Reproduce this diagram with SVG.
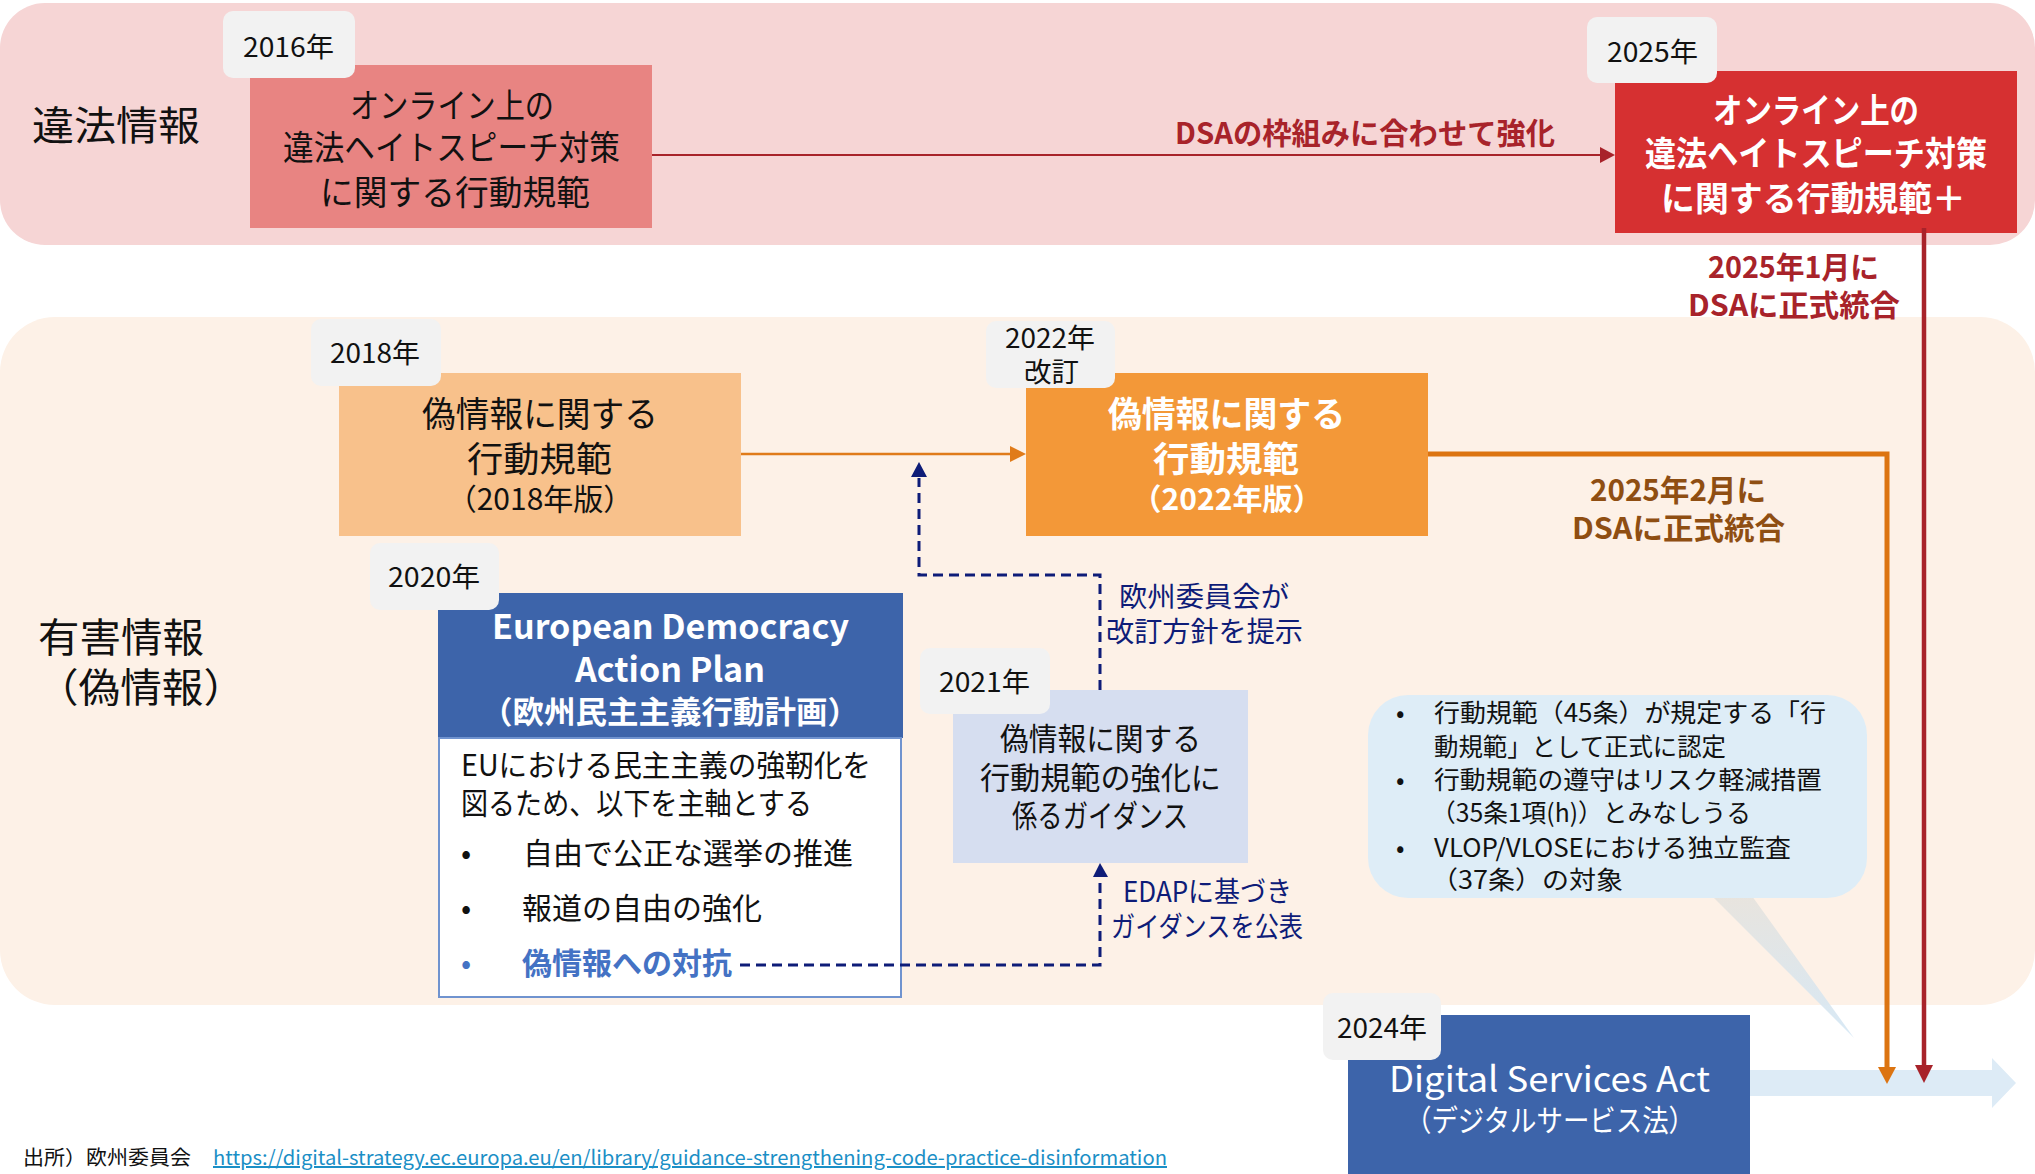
<svg xmlns="http://www.w3.org/2000/svg" width="2035" height="1174" viewBox="0 0 2035 1174">
<style>
text { font-family: "Noto Sans CJK JP", "Noto Sans", sans-serif; }
.b { font-weight: bold; }
.k { fill: #111111; }
.w { fill: #FFFFFF; }
.badge { fill: #F2F2F2; }
.bt { font-size: 27px; fill: #111111; }
.dred { fill: #A8232A; }
.brown { fill: #8F4E12; }
.navy { fill: #0E1C78; font-size: 28px; }
.dash { fill: none; stroke: #0E1C78; stroke-width: 3; stroke-dasharray: 10 6; }
.cl { font-size: 25px; fill: #111111; }
</style>
<defs>
<linearGradient id="tailg" x1="0" y1="0" x2="0" y2="1">
<stop offset="0" stop-color="#E8E4DE"/>
<stop offset="1" stop-color="#D4E7F5" stop-opacity="0.9"/>
</linearGradient>
</defs>

<g id="band-illegal">
<rect x="0" y="3" width="2035" height="242" rx="45" fill="#F6D5D5"/>
<text x="32" y="140" font-size="40" class="k" textLength="168" lengthAdjust="spacingAndGlyphs">違法情報</text>
</g>

<g id="band-harmful">
<rect x="0" y="317" width="2035" height="688" rx="55" fill="#FDF1E7"/>
<text x="38" y="652" font-size="40" class="k" textLength="166" lengthAdjust="spacingAndGlyphs">有害情報</text>
<text x="37" y="702" font-size="40" class="k" textLength="208" lengthAdjust="spacingAndGlyphs">（偽情報）</text>
</g>

<g id="code-2016">
<rect x="250" y="65" width="402" height="163" fill="#E88482"/>
<text x="350" y="118" font-size="34" class="k" textLength="204" lengthAdjust="spacingAndGlyphs">オンライン上の</text>
<text x="283" y="160" font-size="34" class="k" textLength="337" lengthAdjust="spacingAndGlyphs">違法ヘイトスピーチ対策</text>
<text x="320" y="205" font-size="34" class="k" textLength="270" lengthAdjust="spacingAndGlyphs">に関する行動規範</text>
<rect x="223" y="11" width="132" height="67" rx="10" class="badge"/>
<text x="243" y="57" class="bt" textLength="91" lengthAdjust="spacingAndGlyphs">2016年</text>
</g>

<g id="code-2025">
<rect x="1615" y="71" width="402" height="162" fill="#D63031"/>
<text x="1713" y="123" font-size="34" class="b w" textLength="206" lengthAdjust="spacingAndGlyphs">オンライン上の</text>
<text x="1645" y="166" font-size="34" class="b w" textLength="342" lengthAdjust="spacingAndGlyphs">違法ヘイトスピーチ対策</text>
<text x="1661" y="211" font-size="34" class="b w" textLength="305" lengthAdjust="spacingAndGlyphs">に関する行動規範＋</text>
<rect x="1587" y="17" width="130" height="66" rx="10" class="badge"/>
<text x="1607" y="62" class="bt" textLength="91" lengthAdjust="spacingAndGlyphs">2025年</text>
</g>

<g id="code-2018">
<rect x="339" y="373" width="402" height="163" fill="#F8C18B"/>
<text x="422" y="427" font-size="35" class="k" textLength="236" lengthAdjust="spacingAndGlyphs">偽情報に関する</text>
<text x="467" y="472" font-size="35" class="k" textLength="145" lengthAdjust="spacingAndGlyphs">行動規範</text>
<text x="540" y="510" font-size="30" class="k" text-anchor="middle">（2018年版）</text>
<rect x="311" y="319" width="130" height="67" rx="10" class="badge"/>
<text x="330" y="363" class="bt" textLength="90" lengthAdjust="spacingAndGlyphs">2018年</text>
</g>

<g id="code-2022">
<rect x="1026" y="373" width="402" height="163" fill="#F39838"/>
<text x="1108" y="427" font-size="35" class="b w" textLength="237" lengthAdjust="spacingAndGlyphs">偽情報に関する</text>
<text x="1153" y="472" font-size="35" class="b w" textLength="146" lengthAdjust="spacingAndGlyphs">行動規範</text>
<text x="1227" y="510" font-size="30" class="b w" text-anchor="middle">（2022年版）</text>
<rect x="986" y="321" width="129" height="67" rx="10" class="badge"/>
<text x="1005" y="348" class="bt" textLength="90" lengthAdjust="spacingAndGlyphs">2022年</text>
<text x="1024" y="382" class="bt" textLength="55" lengthAdjust="spacingAndGlyphs">改訂</text>
</g>

<g id="edap">
<rect x="438" y="593" width="465" height="145" fill="#3D64AA"/>
<text x="492" y="639" font-size="34" class="b w" textLength="357" lengthAdjust="spacingAndGlyphs">European Democracy</text>
<text x="575" y="682" font-size="34" class="b w" textLength="190" lengthAdjust="spacingAndGlyphs">Action Plan</text>
<text x="670" y="723" font-size="31" class="b w" text-anchor="middle" textLength="378" lengthAdjust="spacingAndGlyphs">（欧州民主主義行動計画）</text>
<rect x="439" y="738" width="462" height="259" fill="#FFFFFF" stroke="#7093CF" stroke-width="2"/>
<text x="461" y="776" font-size="30" class="k" textLength="410" lengthAdjust="spacingAndGlyphs">EUにおける民主主義の強靭化を</text>
<text x="461" y="814" font-size="30" class="k" textLength="351" lengthAdjust="spacingAndGlyphs">図るため、以下を主軸とする</text>
<text x="461" y="864" font-size="30" class="k">•</text>
<text x="523" y="864" font-size="30" class="k" textLength="330" lengthAdjust="spacingAndGlyphs">自由で公正な選挙の推進</text>
<text x="461" y="919" font-size="30" class="k">•</text>
<text x="522" y="919" font-size="30" class="k" textLength="240" lengthAdjust="spacingAndGlyphs">報道の自由の強化</text>
<text x="461" y="974" font-size="30" fill="#4472C4">•</text>
<text x="522" y="974" font-size="30" class="b" fill="#4472C4" textLength="210" lengthAdjust="spacingAndGlyphs">偽情報への対抗</text>
<rect x="370" y="543" width="129" height="67" rx="10" class="badge"/>
<text x="388" y="587" class="bt" textLength="92" lengthAdjust="spacingAndGlyphs">2020年</text>
</g>

<g id="guidance-2021">
<rect x="953" y="690" width="295" height="173" fill="#D6DEF0"/>
<text x="1000" y="750" font-size="31" class="k" textLength="201" lengthAdjust="spacingAndGlyphs">偽情報に関する</text>
<text x="980" y="789" font-size="31" class="k" textLength="241" lengthAdjust="spacingAndGlyphs">行動規範の強化に</text>
<text x="1012" y="827" font-size="31" class="k" textLength="176" lengthAdjust="spacingAndGlyphs">係るガイダンス</text>
<rect x="920" y="648" width="130" height="66" rx="10" class="badge"/>
<text x="939" y="692" class="bt" textLength="91" lengthAdjust="spacingAndGlyphs">2021年</text>
</g>

<g id="callout">
<polygon points="1712,896 1752,896 1854,1038" fill="url(#tailg)"/>
<rect x="1368" y="695" width="499" height="203" rx="40" fill="#DEEDF7"/>
<text x="1396" y="722" class="cl">•</text>
<text x="1434" y="722" class="cl" textLength="392" lengthAdjust="spacingAndGlyphs">行動規範（45条）が規定する「行</text>
<text x="1434" y="756" class="cl" textLength="292" lengthAdjust="spacingAndGlyphs">動規範」として正式に認定</text>
<text x="1396" y="789" class="cl">•</text>
<text x="1434" y="789" class="cl" textLength="388" lengthAdjust="spacingAndGlyphs">行動規範の遵守はリスク軽減措置</text>
<text x="1431" y="822" class="cl" textLength="320" lengthAdjust="spacingAndGlyphs">（35条1項(h)）とみなしうる</text>
<text x="1396" y="857" class="cl">•</text>
<text x="1434" y="857" class="cl" textLength="357" lengthAdjust="spacingAndGlyphs">VLOP/VLOSEにおける独立監査</text>
<text x="1431" y="889" class="cl" textLength="192" lengthAdjust="spacingAndGlyphs">（37条）の対象</text>
</g>

<g id="dsa">
<polygon points="1750,1070 1992,1070 1992,1058 2016,1083 1992,1108 1992,1096 1750,1096" fill="#DDEBF6"/>
<rect x="1348" y="1015" width="402" height="165" fill="#3D64AA"/>
<text x="1389" y="1092" font-size="35" class="w" textLength="321" lengthAdjust="spacingAndGlyphs">Digital Services Act</text>
<text x="1550" y="1131" font-size="30" class="w" text-anchor="middle" textLength="290" lengthAdjust="spacingAndGlyphs">（デジタルサービス法）</text>
<rect x="1323" y="993" width="118" height="67" rx="10" class="badge"/>
<text x="1337" y="1038" class="bt" textLength="90" lengthAdjust="spacingAndGlyphs">2024年</text>
</g>

<g id="footer">
<text x="23" y="1165" font-size="20" class="k" textLength="168" lengthAdjust="spacingAndGlyphs">出所）欧州委員会</text>
<text x="213" y="1165" font-size="20" fill="#1B8FC6" text-decoration="underline" textLength="954" lengthAdjust="spacingAndGlyphs">https://digital-strategy.ec.europa.eu/en/library/guidance-strengthening-code-practice-disinformation</text>
</g>

<g id="connectors">
<line x1="652" y1="155" x2="1601" y2="155" stroke="#A8232A" stroke-width="2"/>
<polygon points="1600,147 1615,155 1600,163" fill="#A8232A"/>
<text x="1175" y="144" font-size="30" class="b dred" textLength="380" lengthAdjust="spacingAndGlyphs">DSAの枠組みに合わせて強化</text>

<line x1="741" y1="454" x2="1011" y2="454" stroke="#E07B1A" stroke-width="2.5"/>
<polygon points="1010,446 1026,454 1010,462" fill="#E07B1A"/>

<path d="M1428,454 H1887 V1068" fill="none" stroke="#DC7411" stroke-width="5"/>
<polygon points="1878,1067 1896,1067 1887,1084" fill="#DC7411"/>
<text x="1590" y="501" font-size="30" class="b brown" textLength="176" lengthAdjust="spacingAndGlyphs">2025年2月に</text>
<text x="1572" y="539" font-size="30" class="b brown" textLength="213" lengthAdjust="spacingAndGlyphs">DSAに正式統合</text>

<line x1="1924" y1="228" x2="1924" y2="1066" stroke="#A8232A" stroke-width="4.5"/>
<polygon points="1915,1065 1933,1065 1924,1083" fill="#A8232A"/>
<text x="1708" y="278" font-size="30" class="b dred" textLength="171" lengthAdjust="spacingAndGlyphs">2025年1月に</text>
<text x="1688" y="316" font-size="30" class="b dred" textLength="212" lengthAdjust="spacingAndGlyphs">DSAに正式統合</text>

<path class="dash" d="M740,965 H1100 V878"/>
<polygon points="1093,877 1108,877 1100,863" fill="#0E1C78"/>
<text x="1123" y="902" class="navy" textLength="169" lengthAdjust="spacingAndGlyphs">EDAPに基づき</text>
<text x="1111" y="937" class="navy" textLength="192" lengthAdjust="spacingAndGlyphs">ガイダンスを公表</text>

<path class="dash" d="M1100,690 V575 H919 V478"/>
<polygon points="911,477 927,477 919,462" fill="#0E1C78"/>
<text x="1119" y="607" class="navy" textLength="170" lengthAdjust="spacingAndGlyphs">欧州委員会が</text>
<text x="1106" y="642" class="navy" textLength="197" lengthAdjust="spacingAndGlyphs">改訂方針を提示</text>
</g>
</svg>
